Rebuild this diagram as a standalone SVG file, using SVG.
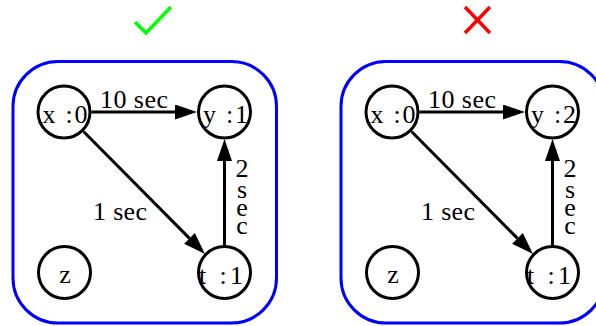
<svg xmlns="http://www.w3.org/2000/svg" width="596" height="326" viewBox="0 0 596 326">
  <defs>
    <style>
      .frame { fill: none; stroke: #0000ff; stroke-width: 3; }
      .node circle { fill: #ffffff; stroke: #000000; stroke-width: 3; }
      .edge { stroke: #000000; stroke-width: 3; fill: none; marker-end: url(#head); }
      .ok { fill: none; stroke: #00ff00; stroke-width: 3.5; }
      .bad { fill: none; stroke: #ff0000; stroke-width: 3.5; }
      .vert { writing-mode: vertical-rl; text-orientation: upright; letter-spacing: -11px; text-anchor: start; }
    </style>
    <marker id="head" markerUnits="userSpaceOnUse" markerWidth="24" markerHeight="16" refX="0" refY="7.5" orient="auto">
      <path d="M0,0 L22,7.5 L0,15 Z" fill="#000000"/>
    </marker>
  </defs>

  <g font-family="Liberation Serif" font-size="26" text-anchor="middle" fill="#000000">
    <!-- valid schedule -->
    <g id="panel-ok">
      <polyline class="ok" points="135,22 146,33 171,7"/>
      <rect class="frame" x="13" y="61.5" width="263.5" height="261.5" rx="45" ry="45"/>
      <g id="edges-ok">
        <line class="edge" x1="91.5" y1="112" x2="175" y2="112"/>
        <line class="edge" x1="83.5" y1="131.5" x2="189.5" y2="238.4"/>
        <line class="edge" x1="224.5" y1="246" x2="224.5" y2="161"/>
        <text x="134" y="108" textLength="68">10 sec</text>
        <text x="120" y="220" textLength="54">1 sec</text>
        <text x="242" y="177">2</text>
        <text class="vert" x="242" y="175">sec</text>
      </g>
      <g id="ok-x" class="node"><circle cx="64" cy="112" r="26"/><text x="65" y="123" textLength="45">x :0</text></g>
      <g id="ok-y" class="node"><circle cx="224.5" cy="112" r="26"/><text x="225.5" y="123" textLength="45">y :1</text></g>
      <g id="ok-z" class="node"><circle cx="64.5" cy="272.5" r="26"/><text x="65" y="283">z</text></g>
      <g id="ok-t" class="node"><circle cx="224.5" cy="272.5" r="26"/><text x="221" y="284" textLength="44">t :1</text></g>
    </g>

    <!-- invalid schedule -->
    <g id="panel-bad" transform="translate(328,0)">
      <line class="bad" x1="137" y1="7" x2="162" y2="33"/>
      <line class="bad" x1="137" y1="33" x2="162" y2="7"/>
      <rect class="frame" x="13" y="61.5" width="263.5" height="261.5" rx="45" ry="45"/>
      <g id="edges-bad">
        <line class="edge" x1="91.5" y1="112" x2="175" y2="112"/>
        <line class="edge" x1="83.5" y1="131.5" x2="189.5" y2="238.4"/>
        <line class="edge" x1="224.5" y1="246" x2="224.5" y2="161"/>
        <text x="134" y="108" textLength="68">10 sec</text>
        <text x="120" y="220" textLength="54">1 sec</text>
        <text x="242" y="177">2</text>
        <text class="vert" x="242" y="175">sec</text>
      </g>
      <g id="bad-x" class="node"><circle cx="64" cy="112" r="26"/><text x="65" y="123" textLength="45">x :0</text></g>
      <g id="bad-y" class="node"><circle cx="224.5" cy="112" r="26"/><text x="225.5" y="123" textLength="45">y :2</text></g>
      <g id="bad-z" class="node"><circle cx="64.5" cy="272.5" r="26"/><text x="65" y="283">z</text></g>
      <g id="bad-t" class="node"><circle cx="224.5" cy="272.5" r="26"/><text x="221" y="284" textLength="44">t :1</text></g>
    </g>
  </g>
</svg>
